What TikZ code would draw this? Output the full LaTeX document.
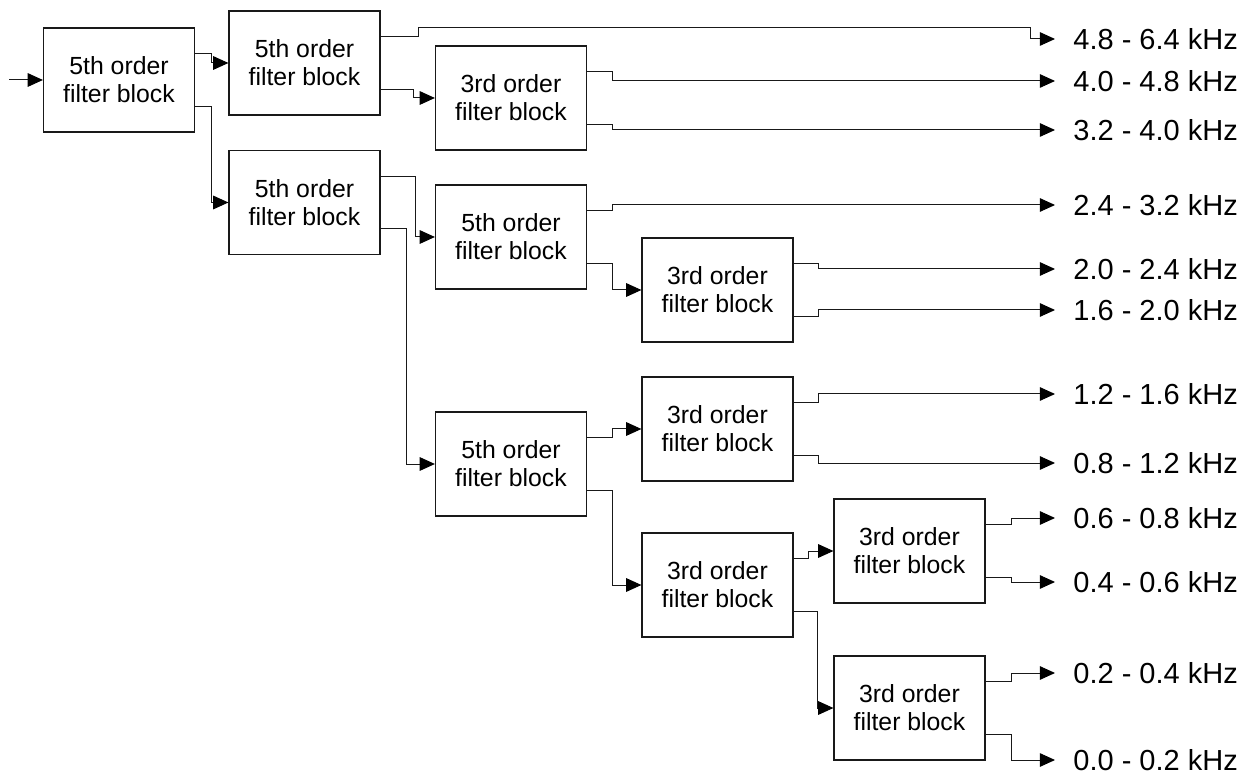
\documentclass[tikz,border=0pt]{standalone}
\usepackage{fontspec}
\setmainfont{Liberation Sans}
\usetikzlibrary{arrows.meta,calc}
\begin{document}
\begin{tikzpicture}[x=0.5pt,y=-0.5pt,
  blk/.style={draw=black!90, line width=0.6pt, minimum width=75.5pt, minimum height=52pt, inner sep=0pt, align=center, font=\fontsize{12.4}{14}\selectfont},
  arr/.style={draw=black!90, line width=0.5pt, -{Triangle[length=7.6pt,width=6.8pt,fill=black,color=black]}},
  lab/.style={anchor=west, inner xsep=9pt, inner ysep=0pt, font=\fontsize{14.5}{16}\selectfont}]
\useasboundingbox (0,0) rectangle (1251,774);
% boxes
\node[blk] (b1) at (119,80) {5th order\\filter block};
\node[blk] (b2) at (304.5,63) {5th order\\filter block};
\node[blk] (b3) at (511,98) {3rd order\\filter block};
\node[blk] (b4) at (304.5,202.5) {5th order\\filter block};
\node[blk] (b5) at (511,237) {5th order\\filter block};
\node[blk] (b6) at (717.5,290) {3rd order\\filter block};
\node[blk] (b7) at (717.5,429) {3rd order\\filter block};
\node[blk] (b8) at (511,464) {5th order\\filter block};
\node[blk] (b9) at (717.5,585) {3rd order\\filter block};
\node[blk] (b10) at (909.5,551) {3rd order\\filter block};
\node[blk] (b11) at (909.5,708) {3rd order\\filter block};
% labels
\node[lab] (l48) at (1055,39) {4.8 - 6.4 kHz};
\node[lab] (l40) at (1055,81) {4.0 - 4.8 kHz};
\node[lab] (l32) at (1055,130) {3.2 - 4.0 kHz};
\node[lab] (l24) at (1055,205) {2.4 - 3.2 kHz};
\node[lab] (l20) at (1055,269) {2.0 - 2.4 kHz};
\node[lab] (l16) at (1055,310) {1.6 - 2.0 kHz};
\node[lab] (l12) at (1055,394) {1.2 - 1.6 kHz};
\node[lab] (l08) at (1055,463) {0.8 - 1.2 kHz};
\node[lab] (l06) at (1055,518) {0.6 - 0.8 kHz};
\node[lab] (l04) at (1055,582) {0.4 - 0.6 kHz};
\node[lab] (l02) at (1055,673) {0.2 - 0.4 kHz};
\node[lab] (l00) at (1055,760) {0.0 - 0.2 kHz};
\coordinate (in) at (9,80);
\coordinate (k1) at (1030,28);
% connectors
\draw[arr] (in) -- (b1.west);
\draw[arr] ($(b1.north east)!.25!(b1.south east)$) -- ++(16,0) |- (b2.west);
\draw[arr] ($(b1.north east)!.75!(b1.south east)$) -- ++(16,0) |- (b4.west);
\draw[arr] ($(b2.north east)!.25!(b2.south east)$) -- ++(38,0) |- (k1) |- (l48.west);
\draw[arr] ($(b2.north east)!.75!(b2.south east)$) -- ++(33,0) |- (b3.west);
\draw[arr] ($(b3.north east)!.25!(b3.south east)$) -- ++(25,0) |- (l40.west);
\draw[arr] ($(b3.north east)!.75!(b3.south east)$) -- ++(25,0) |- (l32.west);
\draw[arr] ($(b4.north east)!.25!(b4.south east)$) -- ++(35,0) |- (b5.west);
\draw[arr] ($(b4.north east)!.75!(b4.south east)$) -- ++(26,0) |- (b8.west);
\draw[arr] ($(b5.north east)!.25!(b5.south east)$) -- ++(25,0) |- (l24.west);
\draw[arr] ($(b5.north east)!.75!(b5.south east)$) -- ++(25,0) |- (b6.west);
\draw[arr] ($(b6.north east)!.25!(b6.south east)$) -- ++(25,0) |- (l20.west);
\draw[arr] ($(b6.north east)!.75!(b6.south east)$) -- ++(25,0) |- (l16.west);
\draw[arr] ($(b8.north east)!.25!(b8.south east)$) -- ++(25,0) |- (b7.west);
\draw[arr] ($(b8.north east)!.75!(b8.south east)$) -- ++(25,0) |- (b9.west);
\draw[arr] ($(b7.north east)!.25!(b7.south east)$) -- ++(25,0) |- (l12.west);
\draw[arr] ($(b7.north east)!.75!(b7.south east)$) -- ++(25,0) |- (l08.west);
\draw[arr] ($(b9.north east)!.25!(b9.south east)$) -- ++(15,0) |- (b10.west);
\draw[arr] ($(b9.north east)!.75!(b9.south east)$) -- ++(24,0) |- (b11.west);
\draw[arr] ($(b10.north east)!.25!(b10.south east)$) -- ++(26,0) |- (l06.west);
\draw[arr] ($(b10.north east)!.75!(b10.south east)$) -- ++(26,0) |- (l04.west);
\draw[arr] ($(b11.north east)!.25!(b11.south east)$) -- ++(26,0) |- (l02.west);
\draw[arr] ($(b11.north east)!.75!(b11.south east)$) -- ++(26,0) |- (l00.west);
\end{tikzpicture}
\end{document}
